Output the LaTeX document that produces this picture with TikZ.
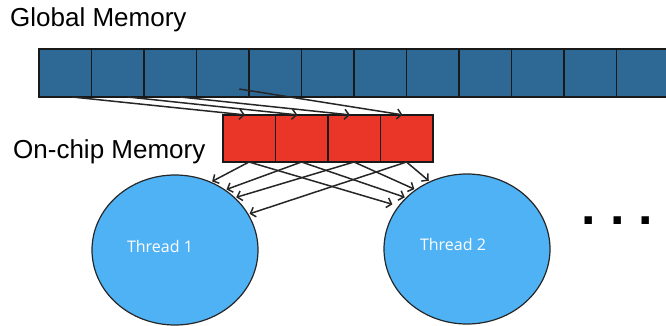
\documentclass[tikz,border=0pt]{standalone}
\usepackage{fontspec}
\setmainfont{Liberation Sans}
\newfontfamily\threadfont{Open Sans}
\usetikzlibrary{positioning, arrows.meta, shapes.geometric}

\definecolor{gmemblue}{RGB}{46,105,150}
\definecolor{smemred}{RGB}{233,54,40}
\definecolor{threadblue}{RGB}{79,178,244}

\tikzset{
    gcell/.style={draw=black!90, line width=1.5pt, fill=gmemblue,
        minimum width=52.5pt, minimum height=48pt, inner sep=0pt, outer sep=0pt},
    scell/.style={draw=black!90, line width=1.5pt, fill=smemred,
        minimum width=52.5pt, minimum height=47pt, inner sep=0pt, outer sep=0pt},
    thread/.style={ellipse, draw=black!85, line width=1.2pt, fill=threadblue,
        minimum width=166pt, minimum height=150pt, inner sep=0pt},
    threadtext/.style={text=white, font=\threadfont\fontsize{16}{18}\selectfont},
    memlabel/.style={font=\fontsize{26}{30}\selectfont, inner sep=0pt, anchor=base west},
    copy/.style={->, draw=black!85, line width=1.5pt, shorten >=1pt},
}

\begin{document}
\begin{tikzpicture}[x=1pt,y=-1pt,node distance=52.5pt,on grid,
        >={Straight Barb[length=4.5pt,width=10pt]}]
    \useasboundingbox (0,0) rectangle (666,326);

    \node[memlabel] (gmem) at (10,27) {Global Memory};
    \node[memlabel] (smem) at (13,158) {On-chip Memory};

    % global memory row
    \node[gcell] (g1) at (65.25,73) {};
    \node[gcell] (g2) [right=of g1] {};
    \node[gcell] (g3) [right=of g2] {};
    \node[gcell] (g4) [right=of g3] {};
    \node[gcell] (g5) [right=of g4] {};
    \node[gcell] (g6) [right=of g5] {};
    \node[gcell] (g7) [right=of g6] {};
    \node[gcell] (g8) [right=of g7] {};
    \node[gcell] (g9) [right=of g8] {};
    \node[gcell] (g10) [right=of g9] {};
    \node[gcell] (g11) [right=of g10] {};
    \node[gcell] (g12) [right=of g11] {};

    % on-chip row
    \node[scell] (r1) at (249,138.5) {};
    \node[scell] (r2) [right=of r1] {};
    \node[scell] (r3) [right=of r2] {};
    \node[scell] (r4) [right=of r3] {};

    \node[thread] (t1) at (175,250) {};
    \node[thread] (t2) at (467,249) {};
    \node[threadtext] (t1label) at ([xshift=-15pt,yshift=4pt]t1) {Thread 1};
    \node[threadtext] (t2label) at ([xshift=-14pt,yshift=5pt]t2) {Thread 2};

    \node[font=\bfseries\fontsize{52}{52}\selectfont, inner sep=0pt, anchor=base]
        (more) at (617.3,224.5) {.\hspace{14pt}.\hspace{14pt}.};

    % loads into on-chip memory
    \draw[copy] ([xshift=7pt]g1.south) -- ([xshift=-3pt]r1.north);
    \draw[copy] ([xshift=10pt]g2.south) -- ([xshift=-3pt]r2.north);
    \draw[copy] ([xshift=10pt]g3.south) -- ([xshift=-3pt]r3.north);
    \draw[copy] ([xshift=16.5pt,yshift=8pt]g4.south) -- ([xshift=-3pt]r4.north);

    % reads by the threads
    \draw[copy] (r1.south) -- (t1.62);
    \draw[copy] (r2.south) -- (t1.50);
    \draw[copy] (r3.south) -- (t1.41);
    \draw[copy] (r4.south) -- (t1.26);
    \draw[copy] (r4.south) -- (t2.119);
    \draw[copy] (r3.south) -- (t2.131);
    \draw[copy] (r2.south) -- (t2.140);
    \draw[copy, shorten >=6pt] (r1.south) -- (t2.148);
\end{tikzpicture}
\end{document}
